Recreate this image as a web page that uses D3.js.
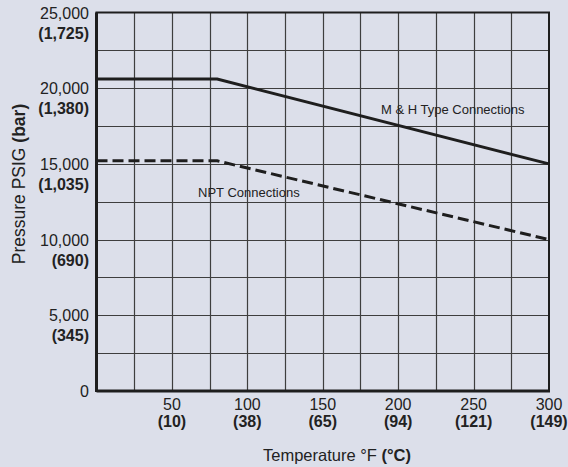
<!DOCTYPE html>
<html>
<head>
<meta charset="utf-8">
<script src="https://cdn.jsdelivr.net/npm/d3@7"></script>
<style>
  body { margin: 0; background: #dcdfea; }
  svg { display: block; font-family: "Liberation Sans", Arial, Helvetica, sans-serif; }
</style>
</head>
<body>
<div id="chartContainer"></div>
<script>
// data
const temps = [0, 80, 300];
const mhPressure = [20600, 20600, 15000];
const nptPressure = [15200, 15200, 10000];

const yTicks = [0, 5000, 10000, 15000, 20000, 25000];
const yBarLabels = ["", "(345)", "(690)", "(1,035)", "(1,380)", "(1,725)"];
const xTicks = [50, 100, 150, 200, 250, 300];
const xCelsiusLabels = ["(10)", "(38)", "(65)", "(94)", "(121)", "(149)"];

const width = 568, height = 467;
const margin = { top: 12.5, right: 19, bottom: 76, left: 96.5 };

const svg = d3.select("#chartContainer")
  .append("svg")
  .attr("width", width)
  .attr("height", height);

svg.append("rect").attr("width", width).attr("height", height).attr("fill", "#dcdfea");

const xScale = d3.scaleLinear().domain([0, 300]).range([margin.left, width - margin.right]);
const yScale = d3.scaleLinear().domain([0, 25000]).range([height - margin.bottom, margin.top]);

// grid
svg.append("g")
  .selectAll("line")
  .data(d3.range(25, 300, 25))
  .enter()
  .append("line")
  .attr("x1", d => Math.round(xScale(d)) + 0.5)
  .attr("x2", d => Math.round(xScale(d)) + 0.5)
  .attr("y1", yScale(0))
  .attr("y2", yScale(25000))
  .attr("stroke", "#3e3e3e")
  .attr("stroke-width", 1.2);

svg.append("g")
  .selectAll("line")
  .data(d3.range(2500, 25000, 2500))
  .enter()
  .append("line")
  .attr("x1", xScale(0))
  .attr("x2", xScale(300))
  .attr("y1", d => Math.round(yScale(d)) + 0.5)
  .attr("y2", d => Math.round(yScale(d)) + 0.5)
  .attr("stroke", "#3e3e3e")
  .attr("stroke-width", 1.2);

// frame
svg.append("rect")
  .attr("x", xScale(0))
  .attr("y", yScale(25000))
  .attr("width", xScale(300) - xScale(0))
  .attr("height", yScale(0) - yScale(25000))
  .attr("fill", "none")
  .attr("stroke", "#1e1e1e")
  .attr("stroke-width", 2);
svg.append("line")
  .attr("x1", xScale(0)).attr("x2", xScale(0))
  .attr("y1", yScale(25000)).attr("y2", yScale(0) + 1)
  .attr("stroke", "#1e1e1e").attr("stroke-width", 3);
svg.append("line")
  .attr("x1", xScale(0)).attr("x2", xScale(300) + 1)
  .attr("y1", yScale(0)).attr("y2", yScale(0))
  .attr("stroke", "#1e1e1e").attr("stroke-width", 3);

// series
const line = d3.line().x(d => xScale(d[0])).y(d => yScale(d[1]));

svg.append("path")
  .attr("d", line(temps.map((t, i) => [t, mhPressure[i]])))
  .attr("fill", "none")
  .attr("stroke", "#1e1e1e")
  .attr("stroke-width", 3);

svg.append("path")
  .attr("d", line(temps.map((t, i) => [t, nptPressure[i]])))
  .attr("fill", "none")
  .attr("stroke", "#1e1e1e")
  .attr("stroke-width", 3)
  .attr("stroke-dasharray", "11,5");

// annotations
svg.append("text")
  .attr("x", 381)
  .attr("y", 114)
  .attr("font-size", "13px")
  .attr("fill", "#222")
  .text("M & H Type Connections");

svg.append("text")
  .attr("x", 198)
  .attr("y", 196.5)
  .attr("font-size", "13px")
  .attr("fill", "#222")
  .text("NPT Connections");

// y tick labels
const yLab = svg.append("g")
  .selectAll("g")
  .data(yTicks)
  .enter()
  .append("g")
  .attr("transform", d => `translate(89, ${yScale(d)})`);

yLab.append("text")
  .attr("text-anchor", "end")
  .attr("y", 6)
  .attr("font-size", "16px")
  .attr("fill", "#222")
  .text(d => d3.format(",")(d));

yLab.append("text")
  .attr("text-anchor", "end")
  .attr("y", 26)
  .attr("font-size", "16px")
  .attr("font-weight", "bold")
  .attr("fill", "#222")
  .text((d, i) => yBarLabels[i]);

// x tick labels
const xLab = svg.append("g")
  .selectAll("g")
  .data(xTicks)
  .enter()
  .append("g")
  .attr("transform", d => `translate(${xScale(d)}, 0)`);

xLab.append("text")
  .attr("text-anchor", "middle")
  .attr("y", 410)
  .attr("font-size", "16px")
  .attr("fill", "#222")
  .text(d => d);

xLab.append("text")
  .attr("text-anchor", "middle")
  .attr("y", 427)
  .attr("font-size", "16px")
  .attr("font-weight", "bold")
  .attr("fill", "#222")
  .text((d, i) => xCelsiusLabels[i]);

// axis titles
const xTitle = svg.append("text")
  .attr("x", 337)
  .attr("y", 461)
  .attr("text-anchor", "middle")
  .attr("font-size", "16.5px")
  .attr("fill", "#222");
xTitle.append("tspan").text("Temperature °F ");
xTitle.append("tspan").attr("font-weight", "bold").text("(°C)");

const yTitle = svg.append("text")
  .attr("transform", "translate(25, 184) rotate(-90)")
  .attr("text-anchor", "middle")
  .attr("font-size", "17.5px")
  .attr("fill", "#222");
yTitle.append("tspan").text("Pressure PSIG ");
yTitle.append("tspan").attr("font-weight", "bold").text("(bar)");
</script>
</body>
</html>
